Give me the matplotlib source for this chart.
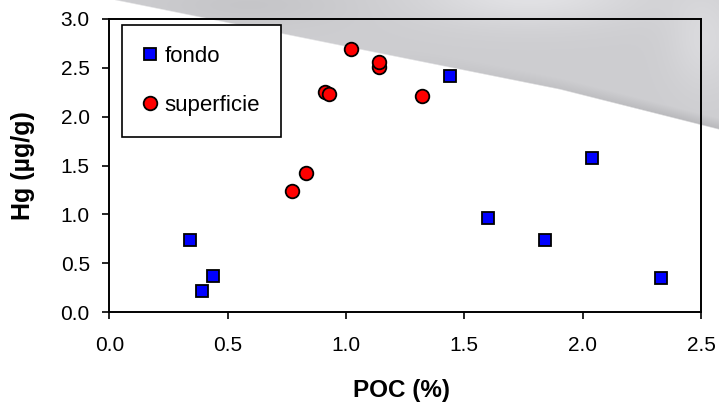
import numpy as np
import matplotlib
matplotlib.use("Agg")
import matplotlib.pyplot as plt

# Mercury vs particulate organic carbon
fondo_poc = [0.34, 0.39, 0.44, 1.44, 1.60, 1.84, 2.04, 2.33]
fondo_hg = [0.74, 0.22, 0.37, 2.41, 0.96, 0.74, 1.58, 0.35]

superficie_poc = [0.77, 0.83, 0.91, 0.93, 1.02, 1.14, 1.14, 1.32]
superficie_hg = [1.24, 1.42, 2.25, 2.23, 2.69, 2.51, 2.56, 2.21]

x_ticks = [0.0, 0.5, 1.0, 1.5, 2.0, 2.5]
y_ticks = [0.0, 0.5, 1.0, 1.5, 2.0, 2.5, 3.0]
series_labels = ["fondo", "superficie"]

plt.rcParams["font.family"] = ["Liberation Sans", "DejaVu Sans"]

W, H = 719, 407
fig = plt.figure(figsize=(W / 100, H / 100), dpi=100, facecolor="white")

# background sheen across the upper part of the sheet
bg = fig.add_axes([0, 0, 1, 1], zorder=-1)
bg.set_xlim(0, W)
bg.set_ylim(H, 0)
bg.axis("off")
yy, xx = np.mgrid[0:H, 0:W] + 0.5
edge = np.interp(xx, [112, 360, 560, 719], [0, 50, 90, 130])
d = edge - yy
g = 0.805 + 0.08 * np.exp(-(((xx - 530) / 110) ** 2 + ((yy + 5) / 30) ** 2))
g += 0.05 * np.exp(-(((xx - 705) / 35) ** 2 + ((yy - 40) / 50) ** 2))
g -= 0.03 * np.exp(-(((xx - 250) / 90) ** 2 + ((yy - 5) / 20) ** 2))
ramp = np.clip((xx - 380) / 300, 0, 1)
g -= 0.09 * ramp * np.clip(1 - d / 12, 0, 1)
alpha = np.clip(d / 1.5, 0, 1)
img = np.dstack([g, g, g + 0.012, alpha]).clip(0, 1)
bg.imshow(img, extent=(0, W, H, 0), aspect="auto", interpolation="bilinear")

ax = fig.add_axes([109.3 / W, 1 - 312.3 / H, 591.7 / W, 293.6 / H])
ax.set_facecolor("none")

ax.plot(fondo_poc, fondo_hg, linestyle="none", marker="s", ms=9.2,
        mfc="#0000ff", mec="black", mew=1.3, label=series_labels[0], zorder=3)
ax.plot(superficie_poc, superficie_hg, linestyle="none", marker="o", ms=9.8,
        mfc="#ff0000", mec="black", mew=1.3, label=series_labels[1], zorder=3)

ax.set_xlim(0, 2.5)
ax.set_ylim(0, 3.0)
ax.set_xticks(x_ticks)
ax.set_yticks(y_ticks)
ax.set_xticklabels([f"{v:.1f}" for v in x_ticks])
ax.set_yticklabels([f"{v:.1f}" for v in y_ticks])
ax.tick_params(axis="both", direction="out", length=5, width=1.2,
               labelsize=15, colors="black")
ax.tick_params(axis="x", pad=12)
ax.tick_params(axis="y", pad=9)
for s in ax.spines.values():
    s.set_linewidth(1.4)
    s.set_color("black")

ax.set_xlabel("POC (%)", fontsize=17.5, fontweight="bold")
ax.set_ylabel("Hg (µg/g)", fontsize=18, fontweight="bold")
ax.xaxis.set_label_coords(0.493, -0.228)
ax.yaxis.set_label_coords(-0.125, 0.5)

leg = ax.legend(loc="upper left", bbox_to_anchor=(0.0215, 0.9785),
                borderaxespad=0, fontsize=16, frameon=True, fancybox=False,
                framealpha=1, edgecolor="black", numpoints=1,
                handlelength=0.6, handletextpad=0.35, labelspacing=1.25,
                borderpad=0.95)
leg.get_frame().set_linewidth(1.2)
leg.set_zorder(5)

fig.savefig("out.png", dpi=100, facecolor="white")
